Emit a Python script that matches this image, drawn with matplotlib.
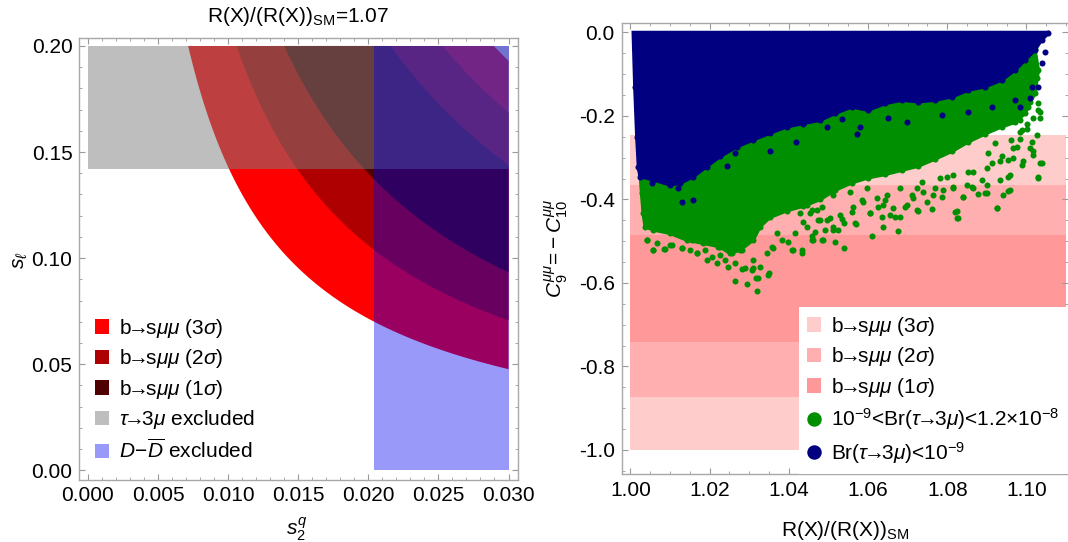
import numpy as np
import matplotlib
matplotlib.use("Agg")
import matplotlib.pyplot as plt
from matplotlib.patches import Patch
from matplotlib.lines import Line2D
from matplotlib.ticker import FormatStrFormatter, MultipleLocator

plt.rcParams['font.family'] = ['Liberation Sans', 'DejaVu Sans']
plt.rcParams['mathtext.fontset'] = 'custom'
plt.rcParams['mathtext.rm'] = 'Liberation Sans'
plt.rcParams['mathtext.it'] = 'Liberation Sans:italic'
plt.rcParams['mathtext.bf'] = 'Liberation Sans:bold'
plt.rcParams['axes.unicode_minus'] = True

FS = 15

# ---------------- left panel data ----------------
left_title = r"R(X)/(R(X))$_{\mathrm{SM}}$=1.07"
ARW = r"$\!$→$\!$"
band_names = [r"b" + ARW + r"s$\mu\mu$ (3$\sigma$)",
              r"b" + ARW + r"s$\mu\mu$ (2$\sigma$)",
              r"b" + ARW + r"s$\mu\mu$ (1$\sigma$)"]
# bands are contours of constant s2q*sl (lower / upper level), for 3σ, 2σ, 1σ
band_lo = [0.00143, 0.00212, 0.00280]
band_hi = [0.00579, 0.00506, 0.00432]
band_colors_left = ['#FF0000', '#AE0000', '#4F0000']
s2q_range = [0.0, 0.030]
sl_range = [0.0, 0.20]
tau_excl_sl_min = 0.1419       # tau->3mu excluded above this s_l
dd_excl_s2q_min = 0.02038      # D-Dbar excluded above this s2q
left_xticks = [0.000, 0.005, 0.010, 0.015, 0.020, 0.025, 0.030]
left_yticks = [0.00, 0.05, 0.10, 0.15, 0.20]

# ---------------- right panel data ----------------
right_band_x = [1.00, 1.11]
right_band_y = [(-1.000, -0.246), (-0.874, -0.365), (-0.742, -0.485)]  # 3σ, 2σ, 1σ
right_band_colors = ['#FFCCCC', '#FFAFAF', '#FF9999']
right_xticks = [1.00, 1.02, 1.04, 1.06, 1.08, 1.10]
right_yticks = [0.0, -0.2, -0.4, -0.6, -0.8, -1.0]

# dense core of the Br<1e-9 points (outline: top edge, then lower edge right to left)
blue_top_x = [1.0007, 1.1055]
blue_top_y = [0.000, 0.000]
blue_edge_x = [1.1055, 1.1038, 1.1021, 1.0996, 1.0971, 1.0937, 1.0895,
               1.0853, 1.0811, 1.0769, 1.0727, 1.0685, 1.0643, 1.0600, 1.0559, 1.0516,
               1.0479, 1.0436, 1.0394, 1.0352, 1.0310, 1.0268, 1.0226, 1.0192, 1.0159,
               1.0125, 1.0100, 1.0058, 1.0024, 1.0020, 1.0016, 1.0011]
blue_edge_y = [-0.002, -0.018, -0.042, -0.066, -0.090, -0.114, -0.130,
               -0.138, -0.154, -0.162, -0.166, -0.162, -0.170, -0.186, -0.178, -0.194,
               -0.210, -0.218, -0.226, -0.241, -0.257, -0.274, -0.297, -0.321, -0.345,
               -0.361, -0.365, -0.353, -0.345, -0.321, -0.250, -0.130]
# dense core of the 1e-9<Br<1.2e-8 points (outline)
green_core_x = [1.0024, 1.0300, 1.0600, 1.0900, 1.1021, 1.1030, 1.1021, 1.0996, 1.0971,
                1.0937, 1.0895, 1.0853, 1.0811, 1.0769, 1.0727, 1.0685, 1.0643, 1.0600,
                1.0559, 1.0516, 1.0479, 1.0436, 1.0394, 1.0352, 1.0327, 1.0310, 1.0277,
                1.0251, 1.0226, 1.0184, 1.0142, 1.0100, 1.0058, 1.0037, 1.0032, 1.0028]
green_core_y = [-0.330, -0.220, -0.150, -0.100, -0.040, -0.090, -0.146, -0.194, -0.215,
                -0.226, -0.243, -0.262, -0.285, -0.303, -0.320, -0.330, -0.340, -0.348,
                -0.360, -0.378, -0.400, -0.416, -0.427, -0.443, -0.465, -0.497, -0.521,
                -0.529, -0.513, -0.505, -0.497, -0.481, -0.473, -0.465, -0.433, -0.385]
# individual scattered points
green_pts_x = [1.0058, 1.0085, 1.0129, 1.0041, 1.0100, 1.0218, 1.0247, 1.0264, 1.0293, 1.0319,
               1.0317, 1.0350, 1.0310, 1.0281, 1.0361, 1.0411, 1.0432, 1.0398, 1.0462, 1.0487,
               1.0512, 1.0458, 1.0495, 1.0428, 1.0470, 1.0167, 1.0192, 1.0150, 1.0226, 1.0369,
               1.0344, 1.0516, 1.0540, 1.0525, 1.0569, 1.0611, 1.0638, 1.0676, 1.0668, 1.0605,
               1.0626, 1.0533, 1.0559, 1.0725, 1.0761, 1.0824, 1.0828, 1.0925, 1.0878, 1.0900,
               1.0954, 1.0958, 1.0988, 1.1030, 1.1038, 1.1017, 1.1013, 1.1034, 1.1030, 1.1026,
               1.1001, 1.0988, 1.0976, 1.0954, 1.0937, 1.0912, 1.0887, 1.0862, 1.0840, 1.0815,
               1.0786, 1.0769, 1.0739, 1.0710, 1.0693, 1.0643, 1.0584, 1.0735, 1.0798, 1.0853,
               1.0904, 1.0920, 1.0962, 1.0984, 1.1005, 1.0971,
               1.0466, 1.0491, 1.0512, 1.0538, 1.0567, 1.0605, 1.0634, 1.0655, 1.0681, 1.0723,
               1.0819, 1.0824, 1.0840, 1.0895, 1.0925, 1.0941, 1.0958, 1.0954, 1.1030, 1.1034,
               1.1017, 1.0992, 1.0967, 1.1009, 1.1026, 1.1034, 1.1030, 1.1001, 1.0984, 1.0933,
               1.0900, 1.0866, 1.0849, 1.0815, 1.0790, 1.0765, 1.0748, 1.0714, 1.0698, 1.0664,
               1.0638, 1.0622, 1.0588, 1.0563, 1.0529, 1.0504, 1.0479, 1.0453, 1.0436, 1.0445,
               1.0470, 1.0512, 1.0554, 1.0596, 1.0681, 1.0647, 1.0723, 1.0782, 1.0815, 1.0866,
               1.0900, 1.0933, 1.0967, 1.0984, 1.1017, 1.1009, 1.0967,
               1.0041, 1.0058, 1.0087, 1.0066, 1.0104, 1.0129, 1.0155, 1.0167, 1.0188, 1.0205,
               1.0222, 1.0239, 1.0264, 1.0289, 1.0306, 1.0327, 1.0348, 1.0323, 1.0310, 1.0281,
               1.0256, 1.0239, 1.0357, 1.0382, 1.0407, 1.0432, 1.0458, 1.0483, 1.0415, 1.0445,
               1.0474, 1.0458, 1.0483]
green_pts_y = [-0.521, -0.519, -0.517, -0.497, -0.509, -0.553, -0.561, -0.595, -0.602, -0.618,
               -0.589, -0.577, -0.565, -0.567, -0.517, -0.521, -0.527, -0.501, -0.497, -0.497,
               -0.473, -0.487, -0.449, -0.433, -0.425, -0.529, -0.545, -0.521, -0.533, -0.481,
               -0.529, -0.501, -0.515, -0.473, -0.459, -0.487, -0.467, -0.475, -0.443, -0.433,
               -0.417, -0.446, -0.430, -0.428, -0.422, -0.428, -0.444, -0.420, -0.388, -0.384,
               -0.380, -0.341, -0.318, -0.349, -0.313, -0.285, -0.262, -0.206, -0.186, -0.110,
               -0.218, -0.234, -0.274, -0.305, -0.297, -0.313, -0.353, -0.369, -0.393, -0.369,
               -0.393, -0.373, -0.381, -0.389, -0.417, -0.401, -0.401, -0.357, -0.345, -0.333,
               -0.289, -0.265, -0.257, -0.210, -0.178, -0.194,
               -0.477, -0.473, -0.465, -0.457, -0.457, -0.433, -0.441, -0.437, -0.441, -0.425,
               -0.429, -0.445, -0.393, -0.385, -0.421, -0.389, -0.377, -0.345, -0.345, -0.313,
               -0.293, -0.309, -0.301, -0.277, -0.246, -0.190, -0.170, -0.230, -0.254, -0.353,
               -0.365, -0.373, -0.365, -0.373, -0.377, -0.389, -0.405, -0.397, -0.413, -0.421,
               -0.413, -0.397, -0.405, -0.417, -0.437, -0.445, -0.449, -0.433, -0.453, -0.413,
               -0.397, -0.389, -0.381, -0.373, -0.373, -0.389, -0.373, -0.349, -0.341, -0.333,
               -0.325, -0.309, -0.277, -0.238, -0.206, -0.166, -0.198,
               -0.497, -0.521, -0.519, -0.505, -0.509, -0.517, -0.497, -0.529, -0.521, -0.537,
               -0.513, -0.545, -0.553, -0.565, -0.569, -0.561, -0.581, -0.589, -0.545, -0.521,
               -0.529, -0.497, -0.513, -0.497, -0.521, -0.521, -0.497, -0.497, -0.481, -0.465,
               -0.449, -0.425, -0.417]
blue_pts_x = [1.0129, 1.0159, 1.0243, 1.0352, 1.0418, 1.0121, 1.0054, 1.0218, 1.0264, 1.0495,
              1.0535, 1.0571, 1.0580, 1.0651, 1.0697, 1.0786, 1.0853, 1.0912, 1.0984, 1.1009,
              1.1030, 1.1038, 1.1047, 1.1013, 1.0971]
blue_pts_y = [-0.405, -0.401, -0.319, -0.285, -0.263, -0.373, -0.361, -0.297, -0.289, -0.226,
              -0.208, -0.244, -0.226, -0.206, -0.214, -0.198, -0.190, -0.178, -0.179, -0.158,
              -0.130, -0.074, -0.046, -0.130, -0.162]
green_label = r"$10^{-9}$<Br($\tau$" + ARW + r"3$\mu$)<1.2×$10^{-8}$"
blue_label = r"Br($\tau$" + ARW + r"3$\mu$)<$10^{-9}$"
GREEN = '#008F00'
NAVY = '#000080'
DOT = 19

# ---------------- figure ----------------
W, H = 1068, 542
fig = plt.figure(figsize=(W / 100, H / 100), dpi=100)

def frac_ax(l, t, r, b):
    return [l / W, 1 - b / H, (r - l) / W, (b - t) / H]

SPINE = '#A8A8A8'

def style(ax):
    for s in ax.spines.values():
        s.set_color(SPINE)
        s.set_linewidth(1.0)
    ax.tick_params(which='both', direction='in', top=True, right=True,
                   color='#999999', labelsize=FS, pad=5)
    ax.tick_params(which='major', length=4, width=0.8)
    ax.tick_params(which='minor', length=2, width=0.6)

# ---- left ----
axL = fig.add_axes(frac_ax(79.4, 37.5, 517.7, 479.5))
gx = np.linspace(s2q_range[0], s2q_range[1], 900)
gy = np.linspace(sl_range[0], sl_range[1], 900)
GX, GY = np.meshgrid(gx, gy)
prod = GX * GY
for lo, hi, c in zip(band_lo, band_hi, band_colors_left):
    axL.contourf(GX, GY, prod, levels=[lo, hi], colors=[c], antialiased=True, zorder=1)
axL.fill_between(s2q_range, tau_excl_sl_min, sl_range[1], color='#7E7E7E', alpha=0.5,
                 lw=0, zorder=2)
axL.fill_between([dd_excl_s2q_min, s2q_range[1]], sl_range[0], sl_range[1],
                 color='#0000F0', alpha=0.4, lw=0, zorder=3)
axL.set_xlim(-0.000606, 0.030656)
axL.set_ylim(-0.00434, 0.2040)
axL.set_xticks(left_xticks)
axL.set_yticks(left_yticks)
axL.xaxis.set_major_formatter(FormatStrFormatter('%.3f'))
axL.yaxis.set_major_formatter(FormatStrFormatter('%.2f'))
axL.xaxis.set_minor_locator(MultipleLocator(0.001))
axL.yaxis.set_minor_locator(MultipleLocator(0.01))
style(axL)

handlesL = [Patch(facecolor=c, edgecolor='none') for c in band_colors_left]
handlesL.append(Patch(facecolor='#7E7E7E', alpha=0.5, edgecolor='none'))
handlesL.append(Patch(facecolor='#0000F0', alpha=0.4, edgecolor='none'))
labelsL = band_names + [r"$\tau$" + ARW + r"3$\mu$ excluded", r"$D\!-\!\overline{D}$ excluded"]
axL.legend(handlesL, labelsL, loc='upper left', bbox_to_anchor=(0.0356, 0.368),
           frameon=False, fontsize=FS, handlelength=0.67, handleheight=0.67,
           handletextpad=0.5, labelspacing=0.36, borderpad=0, borderaxespad=0)

fig.text(298 / W, 1 - 17 / H, left_title, ha='center', va='center', fontsize=FS)
fig.text(297 / W, 1 - 529 / H, r"$s_2^q$", ha='center', va='center', fontsize=FS)
fig.text(21 / W, 1 - 260 / H, r"$s_\ell$", ha='center', va='center', fontsize=FS,
         rotation=90)

# ---- right ----
axR = fig.add_axes(frac_ax(621.7, 23.3, 1068, 474))
for (y0, y1), c in zip(right_band_y, right_band_colors):
    axR.fill_between(right_band_x, y0, y1, color=c, lw=0, zorder=1)
axR.fill(green_core_x, green_core_y, color=GREEN, lw=2.5, ec=GREEN, zorder=2)
axR.scatter(green_core_x, green_core_y, s=DOT, color=GREEN, lw=0, zorder=2)
axR.scatter(green_pts_x, green_pts_y, s=DOT, color=GREEN, lw=0, zorder=2)
axR.fill(blue_top_x + blue_edge_x, blue_top_y + blue_edge_y, color=NAVY, lw=2.5, ec=NAVY,
         zorder=3)
axR.scatter(blue_edge_x, blue_edge_y, s=DOT, color=NAVY, lw=0, zorder=3)
axR.scatter(blue_pts_x, blue_pts_y, s=DOT, color=NAVY, lw=0, zorder=3)
axR.set_xlim(0.99778, 1.11048)
axR.set_ylim(-1.0575, 0.0220)
axR.set_xticks(right_xticks)
axR.set_yticks(right_yticks)
axR.xaxis.set_major_formatter(FormatStrFormatter('%.2f'))
axR.yaxis.set_major_formatter(FormatStrFormatter('%.1f'))
axR.xaxis.set_minor_locator(MultipleLocator(0.005))
axR.yaxis.set_minor_locator(MultipleLocator(0.05))
style(axR)
axR.spines['right'].set_visible(False)

handlesR = [Patch(facecolor=c, edgecolor='none') for c in right_band_colors]
handlesR.append(Line2D([], [], ls='none', marker='o', ms=9.4, color=GREEN))
handlesR.append(Line2D([], [], ls='none', marker='o', ms=9.4, color=NAVY))
labelsR = band_names + [green_label, blue_label]
legR = axR.legend(handlesR, labelsR, loc='lower right', bbox_to_anchor=(1.0, 0.0),
                  frameon=True, fancybox=False, facecolor='white', edgecolor='none',
                  framealpha=1.0, fontsize=FS, handlelength=0.67, handleheight=0.67,
                  handletextpad=0.5, labelspacing=0.36, borderpad=0.4, borderaxespad=0)
legR.set_zorder(10)

fig.text(845 / W, 1 - 531 / H, r"R(X)/(R(X))$_{\mathrm{SM}}$", ha='center', va='center',
         fontsize=FS)
fig.text(556 / W, 1 - 248 / H, r"$C_9^{\mu\mu}\!=\!-C_{10}^{\mu\mu}$", ha='center',
         va='center', fontsize=FS, rotation=90)

fig.savefig('out.png', dpi=100)
